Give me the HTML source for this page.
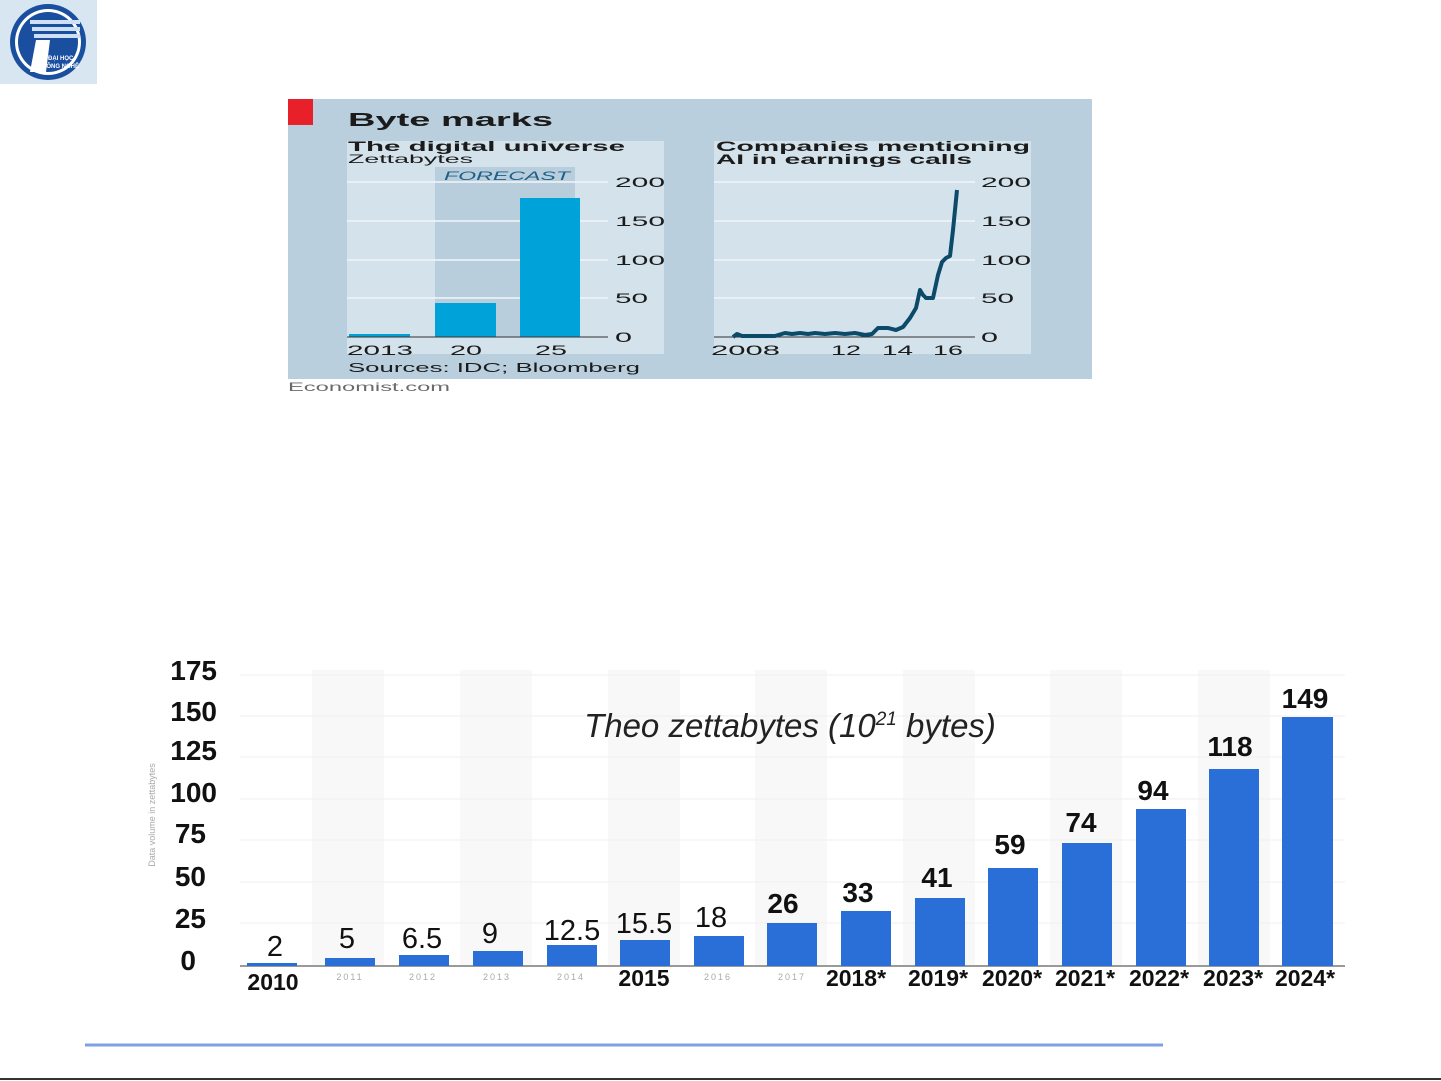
<!DOCTYPE html>
<html><head><meta charset="utf-8"><style>
html,body{margin:0;padding:0;background:#fff;}
svg{display:block;}
</style></head><body>
<svg width="1441" height="1081" viewBox="0 0 1441 1081" xmlns="http://www.w3.org/2000/svg" font-family="Liberation Sans, sans-serif">
<!-- logo -->
<rect x="0" y="0" width="97" height="84" fill="#d8e6f2"/>
<circle cx="48" cy="42" r="38" fill="#1a4fa0"/>
<circle cx="48" cy="42" r="33" fill="#fff"/>
<circle cx="48" cy="42" r="30" fill="#1a4fa0"/>
<rect x="30" y="20" width="50" height="4" fill="#cfe0f5"/>
<rect x="32" y="27" width="48" height="4" fill="#cfe0f5"/>
<rect x="34" y="34" width="46" height="4" fill="#cfe0f5"/>
<polygon points="36,40 50,40 46,72 30,72" fill="#fff"/>
<text x="48" y="60" font-size="6" fill="#fff" font-weight="bold">ĐẠI HỌC</text>
<text x="42" y="68" font-size="6" fill="#fff" font-weight="bold">CÔNG NGHỆ</text>

<!-- top economist chart -->
<rect x="288" y="99" width="804" height="280" fill="#b9cfdd"/>
<rect x="288" y="99" width="25" height="26" fill="#e8202a"/>
<text x="348" y="126" font-size="18" font-weight="bold" fill="#1b1b1b" textLength="205" lengthAdjust="spacingAndGlyphs">Byte marks</text>
<rect x="347" y="141" width="317" height="213" fill="#d3e2eb"/>
<rect x="714" y="141" width="317" height="213" fill="#d3e2eb"/>
<rect x="435" y="167" width="140" height="170" fill="#b8cedd"/>
<text x="348" y="151" font-size="14" font-weight="bold" fill="#1b1b1b" textLength="277" lengthAdjust="spacingAndGlyphs">The digital universe</text>
<text x="348" y="163" font-size="12" fill="#1b1b1b" textLength="125" lengthAdjust="spacingAndGlyphs">Zettabytes</text>
<text x="444" y="180" font-size="12" font-style="italic" fill="#1d5f86" textLength="126" lengthAdjust="spacingAndGlyphs">FORECAST</text>
<g stroke="#f2f6f9" stroke-width="1.5">
<line x1="347" y1="182" x2="608" y2="182"/><line x1="347" y1="221" x2="608" y2="221"/>
<line x1="347" y1="260" x2="608" y2="260"/><line x1="347" y1="298" x2="608" y2="298"/>
<line x1="714" y1="182" x2="975" y2="182"/><line x1="714" y1="221" x2="975" y2="221"/>
<line x1="714" y1="260" x2="975" y2="260"/><line x1="714" y1="298" x2="975" y2="298"/>
</g>
<rect x="349" y="334" width="61" height="3" fill="#00a3d9"/>
<rect x="435" y="303" width="61" height="34" fill="#00a3d9"/>
<rect x="520" y="198" width="60" height="139" fill="#00a3d9"/>
<line x1="347" y1="337" x2="608" y2="337" stroke="#333" stroke-width="1"/>
<line x1="714" y1="337" x2="975" y2="337" stroke="#333" stroke-width="1"/>
<g font-size="14" fill="#1b1b1b">
<text x="615" y="187" textLength="50" lengthAdjust="spacingAndGlyphs">200</text><text x="615" y="226" textLength="50" lengthAdjust="spacingAndGlyphs">150</text><text x="615" y="265" textLength="50" lengthAdjust="spacingAndGlyphs">100</text><text x="615" y="303" textLength="33" lengthAdjust="spacingAndGlyphs">50</text><text x="615" y="342" textLength="17" lengthAdjust="spacingAndGlyphs">0</text>
<text x="981" y="187" textLength="50" lengthAdjust="spacingAndGlyphs">200</text><text x="981" y="226" textLength="50" lengthAdjust="spacingAndGlyphs">150</text><text x="981" y="265" textLength="50" lengthAdjust="spacingAndGlyphs">100</text><text x="981" y="303" textLength="33" lengthAdjust="spacingAndGlyphs">50</text><text x="981" y="342" textLength="17" lengthAdjust="spacingAndGlyphs">0</text>
<text x="347" y="355" textLength="66" lengthAdjust="spacingAndGlyphs">2013</text><text x="450" y="355" textLength="32" lengthAdjust="spacingAndGlyphs">20</text><text x="535" y="355" textLength="32" lengthAdjust="spacingAndGlyphs">25</text>
<text x="711" y="355" textLength="69" lengthAdjust="spacingAndGlyphs">2008</text><text x="831" y="355" textLength="30" lengthAdjust="spacingAndGlyphs">12</text><text x="882" y="355" textLength="31" lengthAdjust="spacingAndGlyphs">14</text><text x="933" y="355" textLength="30" lengthAdjust="spacingAndGlyphs">16</text>
<text x="348" y="372" font-size="13" textLength="292" lengthAdjust="spacingAndGlyphs">Sources: IDC; Bloomberg</text>
</g>
<text x="716" y="151" font-size="14" font-weight="bold" fill="#1b1b1b" textLength="314" lengthAdjust="spacingAndGlyphs">Companies mentioning</text>
<text x="716" y="164" font-size="14" font-weight="bold" fill="#1b1b1b" textLength="256" lengthAdjust="spacingAndGlyphs">AI in earnings calls</text>
<polyline fill="none" stroke="#0b4a68" stroke-width="4" stroke-linejoin="round" points="733,337 737,334 742,336 760,336 775,336 785,333 792,334 800,333 808,334 815,333 825,334 835,333 845,334 855,333 865,335 872,334 878,328 888,328 896,330 903,327 910,318 916,308 920,290 923,295 926,298 933,298 938,275 942,262 946,258 950,256 953,230 957,190"/>
<text x="288" y="391" font-size="12" fill="#6a6a6a" textLength="162" lengthAdjust="spacingAndGlyphs">Economist.com</text>

<!-- bottom chart -->
<g fill="#f8f8f8">
<rect x="312" y="670" width="72" height="295"/><rect x="460" y="670" width="72" height="295"/>
<rect x="608" y="670" width="72" height="295"/><rect x="755" y="670" width="72" height="295"/>
<rect x="903" y="670" width="72" height="295"/><rect x="1050" y="670" width="72" height="295"/>
<rect x="1198" y="670" width="72" height="295"/>
</g>
<g stroke="#efefef" stroke-width="1">
<line x1="240" y1="675" x2="1345" y2="675"/><line x1="240" y1="716" x2="1345" y2="716"/>
<line x1="240" y1="757" x2="1345" y2="757"/><line x1="240" y1="799" x2="1345" y2="799"/>
<line x1="240" y1="840" x2="1345" y2="840"/><line x1="240" y1="882" x2="1345" y2="882"/>
<line x1="240" y1="923" x2="1345" y2="923"/>
</g>
<g font-size="28" font-weight="bold" fill="#111" text-anchor="end">
<text x="217" y="680">175</text><text x="217" y="721">150</text><text x="217" y="760">125</text>
<text x="217" y="802">100</text><text x="206" y="843">75</text><text x="206" y="886">50</text>
<text x="206" y="928">25</text><text x="196" y="970">0</text>
</g>
<text x="155" y="815" font-size="9" fill="#aaa" transform="rotate(-90 155 815)" text-anchor="middle">Data volume in zettabytes</text>
<text x="790" y="737" font-size="33" font-style="italic" fill="#222" text-anchor="middle">Theo zettabytes (10<tspan font-size="19" dy="-12">21</tspan><tspan dy="12"> bytes)</tspan></text>
<line x1="240" y1="966" x2="1345" y2="966" stroke="#9a9a9a" stroke-width="2"/>
<g fill="#2a6fd8">
<rect x="247" y="963" width="50" height="3"/>
<rect x="325" y="958" width="50" height="8"/>
<rect x="399" y="955" width="50" height="11"/>
<rect x="473" y="951" width="50" height="15"/>
<rect x="547" y="945" width="50" height="21"/>
<rect x="620" y="940" width="50" height="26"/>
<rect x="694" y="936" width="50" height="30"/>
<rect x="767" y="923" width="50" height="43"/>
<rect x="841" y="911" width="50" height="55"/>
<rect x="915" y="898" width="50" height="68"/>
<rect x="988" y="868" width="50" height="98"/>
<rect x="1062" y="843" width="50" height="123"/>
<rect x="1136" y="809" width="50" height="157"/>
<rect x="1209" y="769" width="50" height="197"/>
<rect x="1282" y="717" width="51" height="249"/>
</g>
<g font-size="29" fill="#111" text-anchor="middle">
<text x="275" y="956">2</text><text x="347" y="948">5</text><text x="422" y="948">6.5</text>
<text x="490" y="943">9</text><text x="572" y="940">12.5</text><text x="644" y="933">15.5</text>
<text x="711" y="927">18</text>
</g>
<g font-size="28" font-weight="bold" fill="#111" text-anchor="middle">
<text x="783" y="913">26</text><text x="858" y="902">33</text><text x="937" y="887">41</text>
<text x="1010" y="854">59</text><text x="1081" y="832">74</text><text x="1153" y="800">94</text>
<text x="1230" y="756">118</text><text x="1305" y="708">149</text>
</g>
<g font-size="23" font-weight="bold" fill="#111" text-anchor="middle">
<text x="273" y="990">2010</text><text x="644" y="986">2015</text>
<text x="856" y="986">2018*</text><text x="938" y="986">2019*</text><text x="1012" y="986">2020*</text>
<text x="1085" y="986">2021*</text><text x="1159" y="986">2022*</text><text x="1233" y="986">2023*</text>
<text x="1305" y="986">2024*</text>
</g>
<g font-size="9" fill="#aaa" text-anchor="middle" letter-spacing="2">
<text x="350" y="980">2011</text><text x="423" y="980">2012</text><text x="497" y="980">2013</text>
<text x="571" y="980">2014</text><text x="718" y="980">2016</text><text x="792" y="980">2017</text>
</g>
<line x1="85" y1="1045" x2="1163" y2="1045" stroke="#7f9fe6" stroke-width="3"/>
<line x1="0" y1="1079" x2="1441" y2="1079" stroke="#333" stroke-width="2"/>
</svg>
</body></html>
